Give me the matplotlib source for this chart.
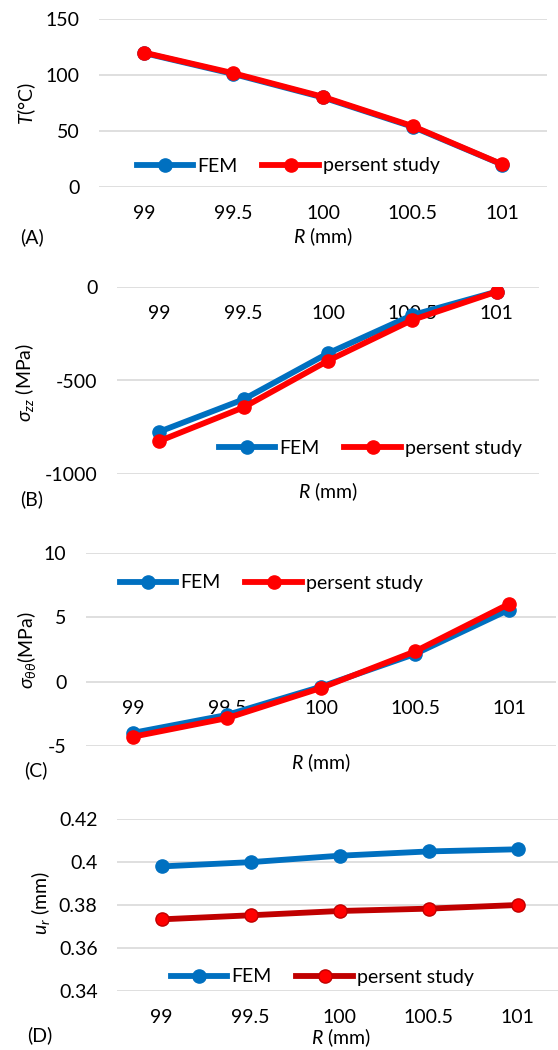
import numpy as np
import matplotlib
matplotlib.use("Agg")
import matplotlib.pyplot as plt
from matplotlib.lines import Line2D

plt.rcParams['font.family'] = ['Lato', 'DejaVu Sans']
plt.rcParams['mathtext.fontset'] = 'custom'
plt.rcParams['mathtext.rm'] = 'Lato'
plt.rcParams['mathtext.it'] = 'Lato:italic'
plt.rcParams['mathtext.fallback'] = 'stix'

# datos
radio = ["99", "99.5", "100", "100.5", "101"]

temp_fem = [119.6, 100.8, 79.8, 53.6, 19.8]
temp_pres = [120, 101.5, 80.4, 54.2, 20]

szz_fem = [-775, -601, -354, -149, -23]
szz_pres = [-825, -644, -394, -175, -23]

stt_fem = [-4.0, -2.6, -0.4, 2.15, 5.6]
stt_pres = [-4.3, -2.85, -0.5, 2.35, 6.05]

ur_fem = [0.398, 0.400, 0.403, 0.405, 0.406]
ur_pres = [0.3733, 0.3752, 0.3772, 0.3783, 0.380]

azul = "#0070C0"
rojo = "#FF0000"
rojo_osc = "#C00000"
W, H = 558, 1050
FS = 14

fig = plt.figure(figsize=(W / 100, H / 100), dpi=100)


def ejes(x0, x1, ytop, ybot):
    return fig.add_axes([x0 / W, 1 - ybot / H, (x1 - x0) / W, (ybot - ytop) / H])


def panel(ax, fem, pres, ylim, yticks, ylabels, cruce, col_pres, borde_pres,
          ley_xy, ylab, ylab_xy, letra, letra_xy, xlab_xy):
    x = np.arange(len(radio))
    ax.plot(x, fem, color=azul, lw=4.2, marker='o', ms=9.5, mfc=azul, mec=azul,
            solid_joinstyle='round', zorder=3)
    ax.plot(x, pres, color=col_pres, lw=4.2, marker='o', ms=9.5, mfc=rojo, mec=borde_pres,
            solid_joinstyle='round', zorder=4)
    ax.set_xlim(-0.5, len(radio) - 0.5)
    ax.set_ylim(*ylim)
    ax.set_yticks(yticks)
    ax.set_yticklabels(ylabels)
    ax.set_xticks(x)
    ax.set_xticklabels(radio)
    for s in ax.spines.values():
        s.set_visible(False)
    ax.spines['bottom'].set_position(('data', cruce))
    ax.tick_params(axis='both', length=0, labelsize=FS, colors='#000000')
    ax.tick_params(axis='y', pad=14)
    ax.tick_params(axis='x', pad=13)
    ax.grid(axis='y', color='#D9D9D9', lw=1.2)
    ax.set_axisbelow(True)
    ax.patch.set_alpha(0)
    h = [Line2D([], [], color=azul, lw=4.2, marker='o', ms=9.5, mfc=azul, mec=azul),
         Line2D([], [], color=col_pres, lw=4.2, marker='o', ms=9.5, mfc=rojo, mec=borde_pres)]
    ax.legend(h, ["FEM", "persent study"], ncol=2, frameon=False, fontsize=FS,
              loc='center', bbox_to_anchor=(ley_xy[0] / W, 1 - ley_xy[1] / H),
              bbox_transform=fig.transFigure, handlelength=2.9, handletextpad=0.2,
              columnspacing=1.3)
    fig.text(ylab_xy[0] / W, 1 - ylab_xy[1] / H, ylab, rotation=90, ha='center',
             va='center', fontsize=FS)
    fig.text(letra_xy[0] / W, 1 - letra_xy[1] / H, letra, ha='left', va='center', fontsize=FS)
    fig.text(xlab_xy[0] / W, 1 - xlab_xy[1] / H, r"$\it{R}$ (mm)", ha='center',
             va='center', fontsize=FS)


# (A) temperatura
axA = ejes(99, 547, 19, 186.7)
panel(axA, temp_fem, temp_pres, (0, 150), [0, 50, 100, 150], ["0", "50", "100", "150"], 0,
      rojo, rojo, (288, 166), r"$T$(°C)", (27, 103), "(A)", (20, 237), (323, 237))

# (B) sigma zz
axB = ejes(117, 539, 287.3, 473.7)
panel(axB, szz_fem, szz_pres, (-1000, 0), [-1000, -500, 0], ["-1000", "-500", "0"], 0,
      rojo, rojo, (370, 448), r"$\sigma_{zz}$ (MPa)", (25, 382), "(B)", (20, 499), (328, 492))

# (C) sigma theta theta
axC = ejes(86, 556, 553.3, 745.7)
panel(axC, stt_fem, stt_pres, (-5, 10), [-5, 0, 5, 10], ["-5", "0", "5", "10"], 0,
      rojo, rojo, (271, 583), r"$\sigma_{\theta\theta}$(MPa)", (27, 650), "(C)", (24, 770), (321, 763))

# (D) desplazamiento radial
axD = ejes(117, 562, 819.3, 990.7)
panel(axD, ur_fem, ur_pres, (0.34, 0.42), [0.34, 0.36, 0.38, 0.40, 0.42],
      ["0.34", "0.36", "0.38", "0.4", "0.42"], 0.34,
      rojo_osc, rojo_osc, (322, 977), r"$u_r$ (mm)", (40, 903), "(D)", (27, 1035), (341, 1038))

fig.savefig("out.png", dpi=100)
